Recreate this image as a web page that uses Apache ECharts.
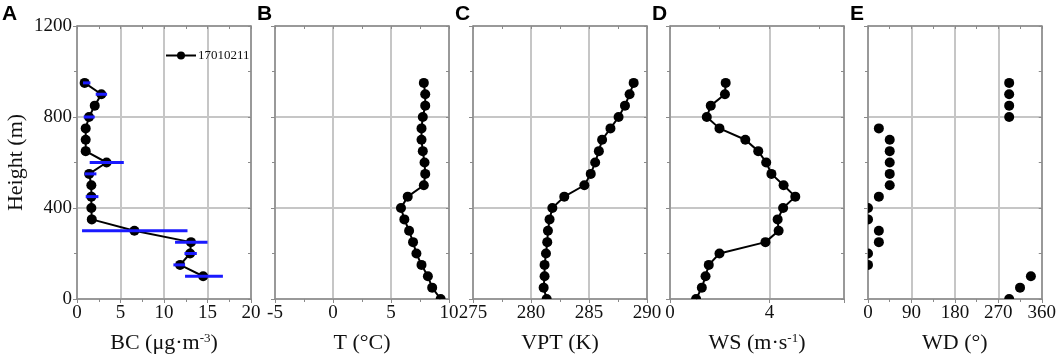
<!DOCTYPE html>
<html>
<head>
<meta charset="utf-8">
<script src="https://cdn.jsdelivr.net/npm/echarts@6/dist/echarts.min.js"></script>
<style>
  html, body { margin: 0; padding: 0; background: #fff; }
  #main { width: 1059px; height: 361px; }
</style>
</head>
<body>
<div id="main"></div>
<script>
// heights (m), 50 m steps
const heights = [0, 50, 100, 150, 200, 250, 300, 350, 400, 450, 500, 550, 600, 650, 700, 750, 800, 850, 900, 950]

// A - BC (only from 100 m up)
const bcHeights = [100, 150, 200, 250, 300, 350, 400, 450, 500, 550, 600, 650, 700, 750, 800, 850, 900, 950]
const bc = [14.5, 11.85, 13.0, 13.1, 6.6, 1.7, 1.65, 1.65, 1.65, 1.4, 3.4, 1.0, 1.0, 1.0, 1.38, 2.04, 2.8, 0.88]
const bcLow = [12.42, 11.08, 12.35, 11.27, 0.58, null, null, 1.0, null, 0.88, 1.46, null, null, null, 0.77, null, 2.15, 0.69]
const bcHigh = [16.77, 12.42, 13.77, 15.0, 12.7, null, null, 2.46, null, 2.23, 5.38, null, null, null, 2.04, null, 3.46, 1.54]

// B - temperature
const temp = [9.28, 8.55, 8.18, 7.63, 7.19, 6.9, 6.56, 6.15, 5.86, 6.44, 7.83, 7.95, 7.89, 7.74, 7.63, 7.63, 7.74, 7.95, 7.95, 7.83]
// C - virtual potential temperature
const vpt = [281.35, 281.09, 281.17, 281.17, 281.29, 281.4, 281.46, 281.6, 281.84, 282.87, 284.6, 285.15, 285.53, 285.85, 286.13, 286.85, 287.55, 288.1, 288.5, 288.85]
// D - wind speed
const ws = [1.05, 1.28, 1.43, 1.56, 1.99, 3.84, 4.37, 4.33, 4.55, 5.04, 4.57, 4.08, 3.87, 3.55, 3.03, 1.99, 1.48, 1.64, 2.21, 2.24]
// E - wind direction
const wd = [292.5, 315, 337.5, 0, 0, 22.5, 22.5, 0, 0, 22.5, 45, 45, 45, 45, 45, 22.5, 292.5, 292.5, 292.5, 292.5]

const panelLetters = ['A', 'B', 'C', 'D', 'E']
const xNames = ['BC', 'T (°C)', 'VPT (K)', 'WS', 'WD (°)']
const xRanges = [[0, 20, 5], [-5, 10, 5], [275, 290, 5], [0, 7, 4], [0, 360, 90]]

const lefts = [77, 275, 473, 670, 868]
const gw = 174
const serif = 'Liberation Serif'
const axisGray = '#8a8a8a'
const gridGray = '#c6c6c6'

var myChart = echarts.init(document.getElementById('main'))

const grids = lefts.map(l => ({ left: l, top: 26, width: gw, height: 273 }))

const xAxes = []
const yAxes = []
xRanges.forEach((r, i) => {
    // bottom axis
    xAxes.push({
        type: 'value', gridIndex: i, position: 'bottom',
        min: r[0], max: r[1], interval: r[2],
        name: i === 0 ? '{a|BC (μg·m}{s|-3}{a|)}' : (i === 3 ? '{a|WS (m·s}{s|-1}{a|)}' : xNames[i]),
        nameLocation: 'middle', nameGap: 33,
        nameTextStyle: {
            fontFamily: serif, fontSize: 22, color: '#111',
            rich: {
                a: { fontFamily: serif, fontSize: 22, color: '#111' },
                s: { fontFamily: serif, fontSize: 13, color: '#111', verticalAlign: 'top', padding: [0, 0, 10, 0] }
            }
        },
        axisLine: { show: true, onZero: false, lineStyle: { color: axisGray, width: 1.5 } },
        axisTick: { show: true, length: 4, lineStyle: { color: axisGray } },
        minorTick: { show: i !== 3, splitNumber: 2, length: 3, lineStyle: { color: axisGray } },
        splitLine: { show: true, lineStyle: { color: gridGray, width: 2 } },
        axisLabel: {
            fontFamily: serif, fontSize: 19, color: '#111', margin: 5,
            showMinLabel: true, showMaxLabel: true,
            formatter: v => (i === 3 && v % 4 !== 0) ? '' : String(v)
        }
    })
    // top axis, ticks only
    xAxes.push({
        type: 'value', gridIndex: i, position: 'top',
        min: r[0], max: r[1], interval: i === 3 ? 2 : r[2],
        axisLine: { show: true, onZero: false, lineStyle: { color: axisGray, width: 1.5 } },
        axisTick: { show: true, inside: true, length: 3, lineStyle: { color: axisGray } },
        minorTick: { show: i !== 3, splitNumber: 2, length: 3, lineStyle: { color: axisGray } },
        splitLine: { show: false },
        axisLabel: { show: false }
    })
    yAxes.push({
        type: 'value', gridIndex: i, position: 'left',
        min: 0, max: 1200, interval: 400,
        name: i === 0 ? 'Height (m)' : '',
        nameLocation: 'middle', nameGap: 50,
        nameTextStyle: { fontFamily: serif, fontSize: 22, color: '#111' },
        axisLine: { show: true, onZero: false, lineStyle: { color: axisGray, width: 1.5 } },
        axisTick: { show: true, length: 4, lineStyle: { color: axisGray } },
        minorTick: { show: true, splitNumber: 2, length: 3, lineStyle: { color: axisGray } },
        splitLine: { show: true, lineStyle: { color: gridGray, width: 2 } },
        axisLabel: {
            show: i === 0, fontFamily: serif, fontSize: 19, color: '#111', margin: 5,
            formatter: v => String(v)
        }
    })
    yAxes.push({
        type: 'value', gridIndex: i, position: 'right',
        min: 0, max: 1200, interval: 400,
        axisLine: { show: true, onZero: false, lineStyle: { color: axisGray, width: 1.5 } },
        axisTick: { show: true, inside: true, length: 3, lineStyle: { color: axisGray } },
        minorTick: { show: true, splitNumber: 2, length: 3, lineStyle: { color: axisGray } },
        splitLine: { show: false },
        axisLabel: { show: false }
    })
})

// black dots clipped to the plot box
function dots(i, xs) {
    return {
        type: 'custom', xAxisIndex: i * 2, yAxisIndex: i * 2, z: 4,
        data: xs.map((v, k) => [v, heights[k]]),
        renderItem: (params, api) => {
            const p = api.coord([api.value(0), api.value(1)])
            const cs = params.coordSys
            return {
                type: 'circle',
                shape: { cx: p[0], cy: p[1], r: 5 },
                style: { fill: '#000' },
                clipPath: { type: 'rect', shape: { x: cs.x, y: cs.y, width: cs.width, height: cs.height } }
            }
        }
    }
}

function line(i, xs) {
    return {
        type: 'line', xAxisIndex: i * 2, yAxisIndex: i * 2,
        data: xs.map((v, k) => [v, heights[k]]),
        symbol: 'none', lineStyle: { color: '#000', width: 2 }, z: 3
    }
}

const series = [
    {
        name: '17010211', type: 'line', xAxisIndex: 0, yAxisIndex: 0,
        data: bc.map((v, k) => [v, bcHeights[k]]),
        symbol: 'circle', symbolSize: 10,
        itemStyle: { color: '#000' },
        lineStyle: { color: '#000', width: 2 }, z: 3
    },
    {
        type: 'custom', xAxisIndex: 0, yAxisIndex: 0, z: 5,
        data: bcLow.map((v, k) => [v, bcHigh[k], bcHeights[k]]).filter(d => d[0] != null),
        renderItem: (params, api) => {
            const a = api.coord([api.value(0), api.value(2)])
            const b = api.coord([api.value(1), api.value(2)])
            return {
                type: 'line',
                shape: { x1: a[0], y1: a[1], x2: b[0], y2: b[1] },
                style: { stroke: '#1a1aff', lineWidth: 3 }
            }
        }
    },
    line(1, temp), dots(1, temp),
    line(2, vpt), dots(2, vpt),
    line(3, ws), dots(3, ws),
    dots(4, wd)
]

const letterX = [2, 257, 455, 652, 850]
var option = {
    animation: false,
    grid: grids,
    xAxis: xAxes,
    yAxis: yAxes,
    legend: {
        data: ['17010211'],
        left: 160, top: 44,
        itemWidth: 30, itemHeight: 10, itemGap: 2,
        textStyle: { fontFamily: serif, fontSize: 13, color: '#111', padding: [0, 0, 0, -3] }
    },
    graphic: panelLetters.map((t, i) => ({
        type: 'text', left: letterX[i], top: 4,
        style: { text: t, font: 'bold 21px "Liberation Sans"', fill: '#000' }
    })),
    series: series
}
myChart.setOption(option)
</script>
</body>
</html>
